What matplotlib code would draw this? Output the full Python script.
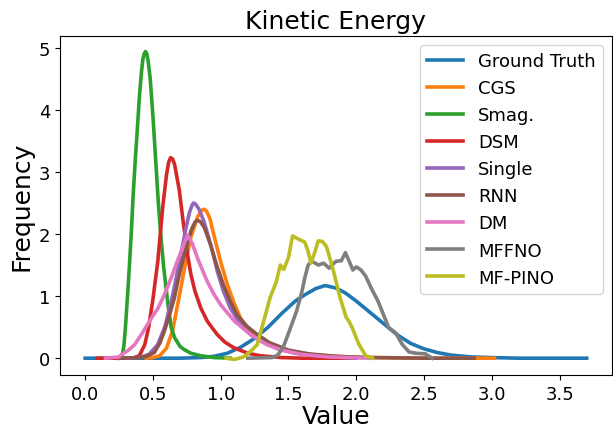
import matplotlib
matplotlib.use("Agg")
import matplotlib.pyplot as plt

# density curves of kinetic energy per model (value, frequency)
gt_x = [0.0, 0.70, 0.85, 0.95, 1.05, 1.15, 1.25, 1.35, 1.45, 1.55, 1.62, 1.70, 1.77,
        1.85, 1.92, 2.0, 2.1, 2.2, 2.3, 2.4, 2.5, 2.6, 2.7, 2.85, 3.0, 3.2, 3.70]
gt_y = [0.0, 0.0, 0.01, 0.03, 0.08, 0.18, 0.32, 0.50, 0.72, 0.92, 1.02, 1.12, 1.17,
        1.13, 1.05, 0.92, 0.74, 0.56, 0.38, 0.24, 0.15, 0.09, 0.05, 0.02, 0.01, 0.0, 0.0]

cgs_x = [0.45, 0.50, 0.55, 0.60, 0.646, 0.69, 0.743, 0.78, 0.83, 0.86, 0.877, 0.895, 0.92, 0.95,
         1.0, 1.05, 1.10, 1.145, 1.20, 1.27, 1.36, 1.45, 1.55, 1.70, 1.85, 2.0, 2.3, 2.6, 3.02]
cgs_y = [0.0, 0.01, 0.04, 0.16, 0.45, 0.95, 1.56, 1.95, 2.28, 2.38, 2.40, 2.37, 2.25, 1.98,
         1.55, 1.18, 0.88, 0.65, 0.48, 0.36, 0.22, 0.14, 0.09, 0.05, 0.03, 0.015, 0.005, 0.0, 0.0]

smag_x = [0.25, 0.27, 0.285, 0.297, 0.32, 0.34, 0.354, 0.37, 0.385, 0.40, 0.415, 0.425, 0.435,
          0.445, 0.455, 0.465, 0.48, 0.50, 0.52, 0.54, 0.56, 0.58, 0.61, 0.634, 0.66, 0.70,
          0.73, 0.78, 0.85, 0.95, 1.07]
smag_y = [0.0, 0.02, 0.18, 0.49, 1.25, 2.0, 2.62, 3.2, 3.69, 4.2, 4.6, 4.8, 4.9,
          4.94, 4.9, 4.78, 4.5, 3.9, 3.2, 2.5, 1.93, 1.45, 0.88, 0.50, 0.33, 0.19,
          0.14, 0.08, 0.04, 0.01, 0.0]

dsm_x = [0.09, 0.35, 0.40, 0.44, 0.468, 0.50, 0.536, 0.573, 0.60, 0.615, 0.63, 0.645, 0.66, 0.695,
         0.72, 0.756, 0.78, 0.81, 0.853, 0.90, 0.94, 0.975, 1.03, 1.095, 1.20, 1.29, 1.45, 1.60, 2.0]
dsm_y = [0.0, 0.0, 0.04, 0.22, 0.49, 0.95, 1.56, 2.45, 2.95, 3.15, 3.23, 3.21, 3.12, 2.70,
         2.25, 1.66, 1.35, 1.08, 0.81, 0.60, 0.48, 0.38, 0.26, 0.17, 0.08, 0.04, 0.01, 0.0, 0.0]

single_x = [0.30, 0.40, 0.47, 0.536, 0.59, 0.646, 0.70, 0.743, 0.77, 0.79, 0.80, 0.815, 0.84, 0.877,
            0.93, 0.975, 1.02, 1.07, 1.13, 1.19, 1.25, 1.32, 1.42, 1.55, 1.70, 1.85, 2.0]
single_y = [0.0, 0.01, 0.06, 0.22, 0.52, 1.02, 1.60, 2.09, 2.35, 2.47, 2.50, 2.48, 2.40, 2.20,
            1.80, 1.40, 1.08, 0.81, 0.60, 0.44, 0.33, 0.25, 0.15, 0.08, 0.04, 0.02, 0.0]

rnn_x = [0.25, 0.40, 0.45, 0.51, 0.55, 0.585, 0.62, 0.658, 0.69, 0.73, 0.78, 0.81, 0.829,
         0.85, 0.88, 0.926, 0.97, 1.02, 1.07, 1.12, 1.19, 1.27, 1.36, 1.50, 1.65, 1.85, 2.1, 2.5, 2.87]
rnn_y = [0.0, 0.01, 0.03, 0.09, 0.24, 0.44, 0.68, 0.97, 1.30, 1.66, 2.05, 2.19, 2.22,
         2.20, 2.10, 1.82, 1.50, 1.18, 0.92, 0.70, 0.52, 0.38, 0.25, 0.13, 0.07, 0.03, 0.01, 0.0, 0.0]

dm_x = [0.15, 0.25, 0.27, 0.32, 0.366, 0.42, 0.49, 0.536, 0.58, 0.634, 0.69, 0.73,
        0.756, 0.79, 0.829, 0.90, 0.95, 1.0, 1.10, 1.22, 1.34, 1.45, 1.60, 1.80, 2.11]
dm_y = [0.0, 0.02, 0.06, 0.13, 0.22, 0.40, 0.65, 0.80, 1.00, 1.29, 1.62, 1.85,
        1.98, 1.85, 1.61, 1.24, 1.03, 0.86, 0.60, 0.38, 0.22, 0.13, 0.06, 0.02, 0.0]

mffno_x = [1.20, 1.38, 1.42, 1.46, 1.51, 1.56, 1.60, 1.62, 1.645, 1.67, 1.69, 1.72,
           1.76, 1.80, 1.85, 1.89, 1.92, 1.95, 1.975, 2.0, 2.035, 2.07, 2.11, 2.16,
           2.19, 2.24, 2.29, 2.34, 2.39, 2.44, 2.51, 2.56]
mffno_y = [0.0, 0.01, 0.05, 0.17, 0.46, 0.76, 1.08, 1.29, 1.50, 1.56, 1.54, 1.50,
           1.53, 1.45, 1.56, 1.57, 1.70, 1.55, 1.42, 1.47, 1.42, 1.32, 1.13, 0.92,
           0.76, 0.49, 0.41, 0.22, 0.10, 0.08, 0.07, 0.0]

mfpino_x = [1.04, 1.10, 1.17, 1.22, 1.27, 1.32, 1.365, 1.41, 1.44, 1.465, 1.50, 1.53,
            1.58, 1.62, 1.645, 1.665, 1.69, 1.72, 1.75, 1.78, 1.83, 1.88, 1.925,
            1.95, 1.97, 2.02, 2.07, 2.12]
mfpino_y = [0.0, -0.02, 0.02, 0.11, 0.22, 0.62, 0.98, 1.23, 1.50, 1.43, 1.62, 1.97,
            1.91, 1.87, 1.72, 1.53, 1.68, 1.89, 1.88, 1.80, 1.42, 0.98, 0.66,
            0.58, 0.49, 0.22, 0.04, 0.0]

series = [
    ("Ground Truth", gt_x, gt_y),
    ("CGS", cgs_x, cgs_y),
    ("Smag.", smag_x, smag_y),
    ("DSM", dsm_x, dsm_y),
    ("Single", single_x, single_y),
    ("RNN", rnn_x, rnn_y),
    ("DM", dm_x, dm_y),
    ("MFFNO", mffno_x, mffno_y),
    ("MF-PINO", mfpino_x, mfpino_y),
]

fig = plt.figure(figsize=(6.13, 4.31), dpi=100)
ax = fig.add_axes([0.098, 0.128, 0.90, 0.786])

for name, xs, ys in series:
    ax.plot(xs, ys, lw=2.6, label=name)

ax.set_title("Kinetic Energy", fontsize=18)
ax.set_xlabel("Value", fontsize=18, labelpad=1)
ax.set_ylabel("Frequency", fontsize=18)
ax.tick_params(axis="both", which="major", labelsize=13)
ax.set_xticks([0.0, 0.5, 1.0, 1.5, 2.0, 2.5, 3.0, 3.5])
ax.set_yticks([0, 1, 2, 3, 4, 5])
ax.legend(fontsize=13, loc="upper right")

plt.savefig("out.png", dpi=100)
